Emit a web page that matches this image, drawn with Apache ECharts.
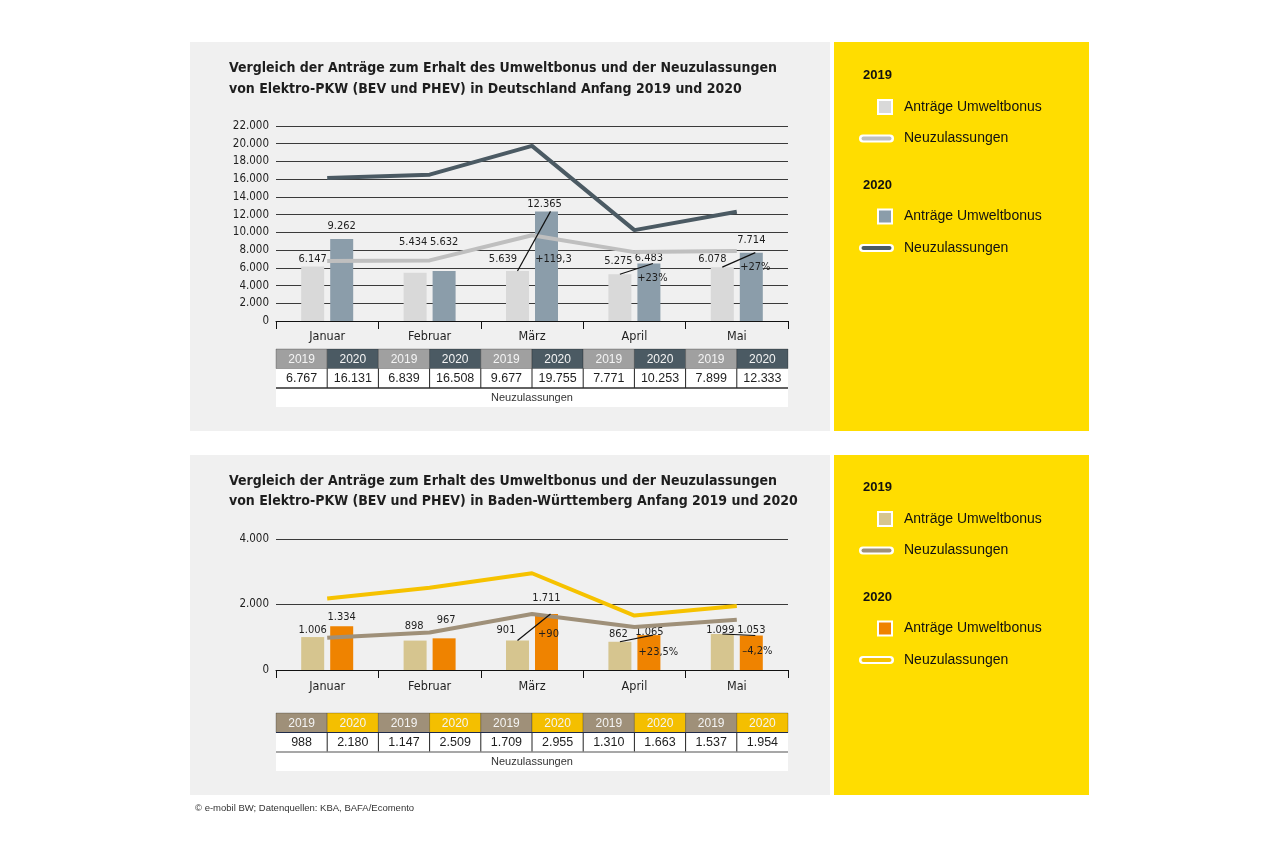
<!DOCTYPE html>
<html><head><meta charset="utf-8">
<script src="https://cdn.jsdelivr.net/npm/echarts@6/dist/echarts.min.js"></script>
<style>html,body{margin:0;padding:0;background:#fff}#c{width:1280px;height:854px}</style>
</head><body><div id="c"></div>
<script>
// ---------- DATA ----------
const months = ['Januar', 'Februar', 'März', 'April', 'Mai'];
const years = ['2019', '2020'];

const titleDE = ['Vergleich der Anträge zum Erhalt des Umweltbonus und der Neuzulassungen',
                 'von Elektro-PKW (BEV und PHEV) in Deutschland Anfang 2019 und 2020'];
const deBonus2019 = [6147, 5434, 5639, 5275, 6078];
const deBonus2020 = [9262, 5632, 12365, 6483, 7714];
const deNeu2019 = [6767, 6839, 9677, 7771, 7899];
const deNeu2020 = [16131, 16508, 19755, 10253, 12333];
const deChangeMonths = ['März', 'April', 'Mai'];
const deChangeLabels = ['+119,3', '+23%', '+27%'];
const deYAxis = { min: 0, max: 22000, interval: 2000 };

const titleBW = ['Vergleich der Anträge zum Erhalt des Umweltbonus und der Neuzulassungen',
                 'von Elektro-PKW (BEV und PHEV) in Baden-Württemberg Anfang 2019 und 2020'];
const bwBonus2019 = [1006, 898, 901, 862, 1099];
const bwBonus2020 = [1334, 967, 1711, 1065, 1053];
const bwNeu2019 = [988, 1147, 1709, 1310, 1537];
const bwNeu2020 = [2180, 2509, 2955, 1663, 1954];
const bwChangeMonths = ['März', 'April', 'Mai'];
const bwChangeLabels = ['+90', '+23,5%', '–4,2%'];
const bwYAxis = { min: 0, max: 4000, interval: 2000 };

const legendBar = 'Anträge Umweltbonus';
const legendLine = 'Neuzulassungen';
const tableCaption = 'Neuzulassungen';
const footer = '© e-mobil BW; Datenquellen: KBA, BAFA/Ecomento';

// ---------- STYLE / LAYOUT ----------
const NARROW = "'DejaVu Sans Condensed','Liberation Sans Narrow',sans-serif";
const SANS = "'Liberation Sans',Arial,sans-serif";
const TXT = '#1e1e1e';
const C = {
  panelGray: '#f0f0f0', panelYellow: '#ffdd00',
  de: { bar19: '#d9d9d9', bar20: '#8b9daa', line19: '#bfbfbf', line20: '#4b5a63', head19: '#a0a0a0', head20: '#4b5a63', under: '#2e2e2e' },
  bw: { bar19: '#d6c58f', bar20: '#ef8300', line19: '#9f9079', line20: '#f6c200', head19: '#9f9079', head20: '#f4bf00', under: '#8a8a8a' }
};
const G = { left: 276, width: 512, barW: 23, barGapPx: 6 };
const SHIFT = (G.barW + G.barGapPx) / 2;
const PANELS = [
  { y: 42, h: 389, gridTop: 126, gridH: 195, tableTop: 349, titleY: [68, 89], legendY: 75 },
  { y: 455, h: 340, gridTop: 539, gridH: 131, tableTop: 713, titleY: [481, 501], legendY: 487 }
];
const LABEL_OFF = {
  de: { b19: [[0, 0], [-2, -23], [-14.5, -4], [-1.5, -6], [-10, 0]],
        b20: [[0, -5], [0, -21], [-2, 0], [0, 2.5], [0, -4.5]],
        pct: [[7, 47.5], [3.5, 14.5], [4, 14.5]] },
  bw: { b19: [[0, 1], [-1, -7], [-11.5, -2.5], [-1.5, 0], [-2, 4]],
        b20: [[0, -2], [2, -11], [0, -8], [0.5, 5], [0, 2.5]],
        pct: [[2, 20], [9.5, 17], [6, 15.5]] }
};
const FS = { title: 14, axis: 11.5, month: 12.5, label: 11, legend: 14, tableHead: 12, tableVal: 12.5, caption: 11, footer: 9.5 };

const fmt = v => String(v).replace(/\B(?=(\d{3})+(?!\d))/g, '.');

// ---------- BUILDERS ----------
function axes(gi, yCfg) {
  const x = {
    type: 'category', gridIndex: gi, data: months, boundaryGap: true,
    axisLine: { show: true, lineStyle: { color: '#111', width: 1 } },
    axisTick: { show: true, length: 8, lineStyle: { color: '#111', width: 1 } },
    axisLabel: { margin: gi === 0 ? 9 : 10, color: TXT, fontFamily: NARROW, fontSize: FS.month },
    splitLine: { show: false }
  };
  const y = {
    type: 'value', gridIndex: gi, min: yCfg.min, max: yCfg.max, interval: yCfg.interval,
    axisLine: { show: false }, axisTick: { show: false },
    axisLabel: { margin: 7, color: TXT, fontFamily: NARROW, fontSize: FS.axis, formatter: v => fmt(v) },
    splitLine: { show: true, lineStyle: { color: '#3a3a3a', width: 1.2 } }
  };
  return [x, y];
}

function series(gi, key, b19, b20, n19, n20, chMonths, chLabels) {
  const c = C[key], off = LABEL_OFF[key];
  const lbl = { show: true, position: 'top', distance: 2, formatter: p => fmt(p.value),
                fontFamily: NARROW, fontSize: FS.label, color: TXT };
  const common = { xAxisIndex: gi, yAxisIndex: gi, animation: false, silent: true };
  return [
    Object.assign({ type: 'bar', name: legendBar + ' 2019', barWidth: G.barW,
      barGap: (G.barGapPx / G.barW * 100) + '%', itemStyle: { color: c.bar19 }, label: lbl,
      data: b19.map((v, i) => ({ value: v, label: { offset: off.b19[i] } })) }, common),
    Object.assign({ type: 'bar', name: legendBar + ' 2020', barWidth: G.barW,
      barGap: (G.barGapPx / G.barW * 100) + '%', itemStyle: { color: c.bar20 }, label: lbl,
      data: b20.map((v, i) => ({ value: v, label: { offset: off.b20[i] } })) }, common),
    Object.assign({ type: 'line', name: legendLine + ' 2019', data: n19, symbol: 'none', z: 3,
      lineStyle: { color: c.line19, width: 4, cap: 'butt' } }, common),
    Object.assign({ type: 'line', name: legendLine + ' 2020', data: n20, symbol: 'none', z: 3,
      lineStyle: { color: c.line20, width: 4, cap: 'butt' } }, common),
    Object.assign({ type: 'custom', name: 'change', z: 5,
      data: chMonths.map((m, k) => { const i = months.indexOf(m); return [i, b19[i], b20[i], k]; }),
      renderItem: (params, api) => {
        const ci = api.value(0), k = api.value(3);
        const p1 = api.coord([ci, api.value(1)]);
        const p2 = api.coord([ci, api.value(2)]);
        const o = off.pct[k];
        return { type: 'group', children: [
          { type: 'line', shape: { x1: p1[0] - SHIFT, y1: p1[1], x2: p2[0] + SHIFT + 4, y2: p2[1] },
            style: { stroke: '#111', lineWidth: 1.2 } },
          { type: 'text', x: p2[0] + SHIFT + o[0], y: p2[1] + o[1],
            style: { text: chLabels[k], fill: TXT, fontFamily: NARROW, fontSize: FS.label, align: 'center', verticalAlign: 'middle' } }
        ] };
      } }, common)
  ];
}

function panelEls(p, key, titleLines, n19, n20) {
  const c = C[key];
  const els = [];
  els.push({ type: 'rect', z: -10, shape: { x: 190, y: p.y, width: 640, height: p.h }, style: { fill: C.panelGray } });
  els.push({ type: 'rect', z: -10, shape: { x: 834, y: p.y, width: 255, height: p.h }, style: { fill: C.panelYellow } });
  titleLines.forEach((t, i) => els.push({ type: 'text', z: 10, x: 229, y: p.titleY[i],
    style: { text: t, fill: TXT, fontFamily: NARROW, fontWeight: 'bold', fontSize: FS.title, align: 'left', verticalAlign: 'middle' } }));
  // table
  const colW = G.width / 10, hH = 19.5, dH = 19.5, fH = 19;
  const y0 = p.tableTop, y1 = y0 + hH, y2 = y1 + dH;
  els.push({ type: 'rect', z: 10, shape: { x: G.left, y: y1, width: G.width, height: dH + fH }, style: { fill: '#fff' } });
  months.forEach((m, i) => {
    [n19[i], n20[i]].forEach((v, j) => {
      const col = 2 * i + j, x = G.left + col * colW;
      els.push({ type: 'rect', z: 10, shape: { x: x, y: y0, width: colW, height: hH },
        style: { fill: j ? c.head20 : c.head19, stroke: 'rgba(0,0,0,0.3)', lineWidth: 0.8 } });
      els.push({ type: 'text', z: 11, x: x + colW / 2, y: y0 + hH / 2 + 0.5,
        style: { text: years[j], fill: '#f4f4f4', fontFamily: SANS, fontSize: FS.tableHead, align: 'center', verticalAlign: 'middle' } });
      els.push({ type: 'text', z: 11, x: x + colW / 2, y: y1 + dH / 2 + 0.5,
        style: { text: fmt(v), fill: TXT, fontFamily: SANS, fontSize: FS.tableVal, align: 'center', verticalAlign: 'middle' } });
      if (col > 0) els.push({ type: 'line', z: 11, shape: { x1: x, y1: y1, x2: x, y2: y2 }, style: { stroke: '#222', lineWidth: 1 } });
    });
  });
  if (key === 'bw') els.push({ type: 'line', z: 11, shape: { x1: G.left, y1: y1, x2: G.left + G.width, y2: y1 }, style: { stroke: '#1f2b4a', lineWidth: 1 } });
  els.push({ type: 'line', z: 11, shape: { x1: G.left, y1: y2, x2: G.left + G.width, y2: y2 }, style: { stroke: c.under, lineWidth: 1.6 } });
  els.push({ type: 'text', z: 11, x: G.left + G.width / 2, y: y2 + fH / 2,
    style: { text: tableCaption, fill: '#333', fontFamily: SANS, fontSize: FS.caption, align: 'center', verticalAlign: 'middle' } });
  // legend
  const L = p.legendY;
  const rows = [
    { t: 'head', y: L, text: years[0] },
    { t: 'bar', y: L + 32, color: c.bar19 },
    { t: 'line', y: L + 63.5, color: c.line19 },
    { t: 'head', y: L + 110.5, text: years[1] },
    { t: 'bar', y: L + 141.5, color: c.bar20 },
    { t: 'line', y: L + 173, color: c.line20 }
  ];
  rows.forEach(r => {
    if (r.t === 'head') {
      els.push({ type: 'text', z: 10, x: 863, y: r.y, style: { text: r.text, fill: '#111', fontFamily: SANS, fontWeight: 'bold', fontSize: 13, align: 'left', verticalAlign: 'middle' } });
    } else if (r.t === 'bar') {
      els.push({ type: 'rect', z: 10, shape: { x: 878, y: r.y - 7, width: 14, height: 14 }, style: { fill: r.color, stroke: '#fff', lineWidth: 2 } });
      els.push({ type: 'text', z: 10, x: 904, y: r.y, style: { text: legendBar, fill: '#111', fontFamily: SANS, fontSize: FS.legend, align: 'left', verticalAlign: 'middle' } });
    } else {
      els.push({ type: 'rect', z: 10, shape: { x: 859, y: r.y - 4, width: 35, height: 8, r: 4 }, style: { fill: '#fff' } });
      els.push({ type: 'rect', z: 11, shape: { x: 861.5, y: r.y - 2, width: 30, height: 4, r: 2 }, style: { fill: r.color } });
      els.push({ type: 'text', z: 10, x: 904, y: r.y, style: { text: legendLine, fill: '#111', fontFamily: SANS, fontSize: FS.legend, align: 'left', verticalAlign: 'middle' } });
    }
  });
  return els;
}

// ---------- CHART ----------
const chart = echarts.init(document.getElementById('c'), null, { renderer: 'canvas' });
const [x0, y0] = axes(0, deYAxis);
const [x1, y1] = axes(1, bwYAxis);
const graphics = [].concat(
  panelEls(PANELS[0], 'de', titleDE, deNeu2019, deNeu2020),
  panelEls(PANELS[1], 'bw', titleBW, bwNeu2019, bwNeu2020),
  [{ type: 'text', x: 195, y: 808, style: { text: footer, fill: '#333', fontFamily: SANS, fontSize: FS.footer, align: 'left', verticalAlign: 'middle' } }]
);
chart.setOption({
  animation: false,
  backgroundColor: '#ffffff',
  grid: [
    { left: G.left, width: G.width, top: PANELS[0].gridTop, height: PANELS[0].gridH, containLabel: false },
    { left: G.left, width: G.width, top: PANELS[1].gridTop, height: PANELS[1].gridH, containLabel: false }
  ],
  xAxis: [x0, x1],
  yAxis: [y0, y1],
  series: [].concat(
    series(0, 'de', deBonus2019, deBonus2020, deNeu2019, deNeu2020, deChangeMonths, deChangeLabels),
    series(1, 'bw', bwBonus2019, bwBonus2020, bwNeu2019, bwNeu2020, bwChangeMonths, bwChangeLabels)
  ),
  graphic: { elements: graphics }
});
</script></body></html>
